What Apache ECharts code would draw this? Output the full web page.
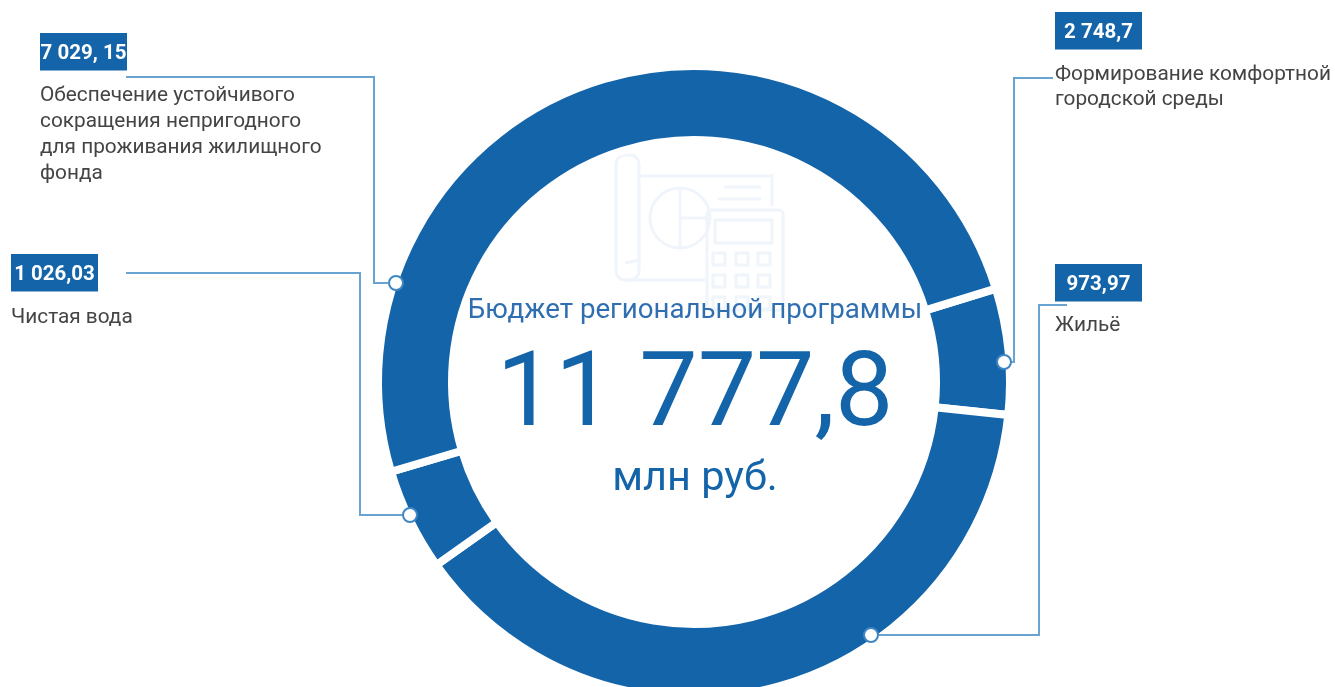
<!DOCTYPE html>
<html lang="ru">

<head>
    <meta charset="UTF-8">
    <style>
    html,
    body {
        height: 100%;
        margin: 0;
        background: #fff;
    }
  </style>
</head>

<body>
<div id="chart" style="width:1335px;height:687px;"></div>
<script src="https://cdn.jsdelivr.net/npm/echarts@6/dist/echarts.min.js"></script>
<script>
    // clockwise from the gap at the upper right
    var categories = [
        'Формирование комфортной\nгородской среды',
        'Жильё',
        'Чистая вода',
        'Обеспечение устойчивого\nсокращения непригодного\nдля проживания жилищного\nфонда'
    ];
    var valueLabels = ['2 748,7', '973,97', '1 026,03', '7 029, 15'];
    // the ring in the picture is not proportional to the amounts, so arcs are read off it in degrees
    var arcDegrees = [23.2, 138.6, 18.9, 179.3];

    var centerTitle = 'Бюджет региональной программы';
    var centerTotal = '11 777,8';
    var centerUnit = 'млн руб.';

    var BLUE = '#1464a9';
    var LINE = '#69a3d2';
    var FONT = 'Roboto';

    var calloutLayout = [
        {box: [1055, 12], text: [1055, 62], lh: 25, dot: [1004, 362], line: [[1012, 362], [1014, 362], [1014, 78], [1053, 78]]},
        {box: [1055, 264], text: [1055, 313], lh: 25, dot: [871, 635], line: [[1067, 305], [1039, 305], [1039, 635], [878, 635]]},
        {box: [11, 254], text: [11, 305], lh: 25, dot: [410, 515], line: [[126, 273], [360, 273], [360, 515], [403, 515]]},
        {box: [40, 33], text: [40, 83], lh: 26, dot: [396, 283], line: [[126, 77], [374, 77], [374, 283], [388, 283]]}
    ];

    var elements = [];

    // faint icon behind the centre text
    function ghost(type, shape) {
        elements.push({
            type: type, shape: shape, silent: true, z: 1,
            style: {fill: 'none', stroke: '#f0f5fb', lineWidth: 3}
        });
    }
    ghost('rect', {x: 616, y: 155, width: 23, height: 125, r: 9});
    ghost('polyline', {points: [[640, 176], [772, 176], [772, 206]]});
    ghost('polyline', {points: [[625, 263], [640, 260]]});
    ghost('polyline', {points: [[625, 280], [705, 280]]});
    ghost('circle', {cx: 680, cy: 218, r: 30});
    ghost('polyline', {points: [[680, 188], [680, 248]]});
    ghost('polyline', {points: [[680, 218], [708, 218]]});
    ghost('polyline', {points: [[724, 187], [761, 187]]});
    ghost('polyline', {points: [[718, 199], [761, 199]]});
    ghost('rect', {x: 707, y: 210, width: 76, height: 100, r: 4});
    ghost('rect', {x: 715, y: 220, width: 57, height: 23});
    [713, 736, 758].forEach(function (x) {
        [253, 275, 297].forEach(function (y) {
            ghost('rect', {x: x, y: y, width: 12, height: 12});
        });
    });

    calloutLayout.forEach(function (c, i) {
        elements.push({
            type: 'polyline', z: 5, silent: true,
            shape: {points: c.line},
            style: {fill: 'none', stroke: LINE, lineWidth: 2}
        });
        elements.push({
            type: 'circle', z: 6, silent: true,
            shape: {cx: c.dot[0], cy: c.dot[1], r: 7},
            style: {fill: '#fff', stroke: '#3f86c2', lineWidth: 2}
        });
        elements.push({
            type: 'rect', z: 6, silent: true,
            shape: {x: c.box[0], y: c.box[1], width: 87, height: 37.5},
            style: {fill: BLUE}
        });
        elements.push({
            type: 'text', z: 7, silent: true,
            x: c.box[0] + 43.5, y: c.box[1] + 20.5,
            style: {
                text: valueLabels[i], fill: '#fff', font: 'bold 20.5px ' + FONT,
                align: 'center', verticalAlign: 'middle'
            }
        });
        elements.push({
            type: 'text', z: 7, silent: true,
            x: c.text[0], y: c.text[1],
            style: {
                text: categories[i], fill: '#444', font: '400 20.8px ' + FONT,
                lineHeight: c.lh, align: 'left', verticalAlign: 'top'
            }
        });
    });

    function centerText(text, y, font, fill) {
        elements.push({
            type: 'text', z: 8, silent: true,
            x: 695, y: y,
            style: {text: text, fill: fill, font: font, align: 'center', verticalAlign: 'middle'}
        });
    }
    centerText(centerTitle, 311, '400 27.7px ' + FONT, '#2f6fb1');
    centerText(centerTotal, 399, '400 104px ' + FONT, BLUE);
    centerText(centerUnit, 480, '400 41.5px ' + FONT, BLUE);

    var myChart = echarts.init(document.getElementById('chart'));
    myChart.setOption(
    {
        animation: false,
        series: [
            {
                type: 'pie',
                center: [694, 382],
                radius: [242, 316],
                startAngle: 17.2,
                clockwise: true,
                silent: true,
                label: {show: false},
                labelLine: {show: false},
                itemStyle: {color: BLUE, borderColor: '#fff', borderWidth: 8},
                data: arcDegrees.map(function (v, i) {
                    return {name: categories[i], value: v};
                })
            }
        ],
        graphic: {elements: elements}
    });
</script>
</body>
</html>
